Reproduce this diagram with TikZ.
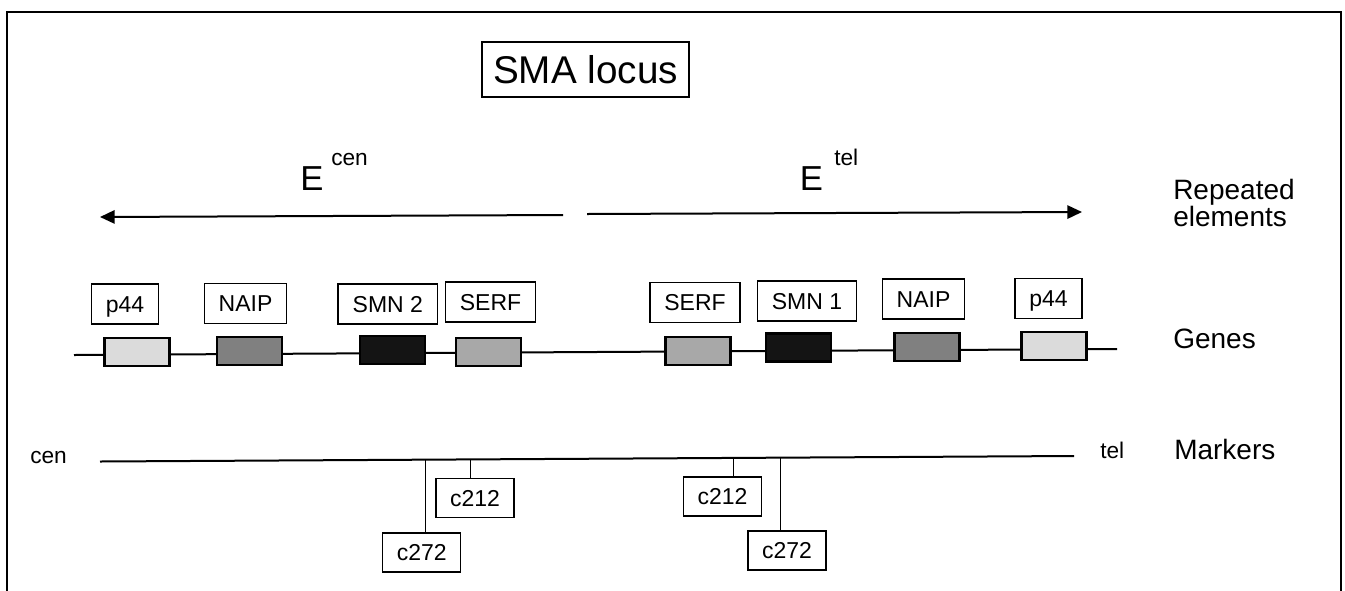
\documentclass[tikz,border=0pt]{standalone}
\usepackage{fontspec}
\setmainfont{Liberation Sans}
\usetikzlibrary{arrows.meta}

\definecolor{lightgene}{gray}{0.86}
\definecolor{naipgene}{gray}{0.50}
\definecolor{smngene}{gray}{0.08}
\definecolor{serfgene}{gray}{0.66}

\tikzset{
  lblbox/.style={draw, line width=1.1pt, inner sep=0pt, minimum height=30pt,
    text height=12.4pt, text depth=0pt, font=\fontsize{17.25}{20}\selectfont},
  genebox/.style={draw, line width=1.9pt, inner sep=0pt, minimum width=48.75pt, minimum height=21pt},
  sidelbl/.style={inner sep=0pt, anchor=west, font=\fontsize{21}{20.25}\selectfont},
  endlbl/.style={inner sep=0pt, anchor=west, font=\fontsize{17}{20}\selectfont},
  ebig/.style={inner sep=0pt, anchor=base, font=\fontsize{26}{28}\selectfont},
  esup/.style={inner sep=0pt, anchor=base west, font=\fontsize{17}{20}\selectfont},
  mline/.style={line width=1.5pt},
  tick/.style={line width=0.9pt}
}

\begin{document}
\begin{tikzpicture}[x=0.75pt,y=0.75pt,yscale=-1,xscale=1]
\useasboundingbox (0,0) rectangle (1345,590);

%Frame
\draw [line width=1.5pt] (7,600) -- (7,12) -- (1341,12) -- (1341,600);

%Title
\node [draw, line width=1.1pt, inner sep=0pt, minimum width=155pt, minimum height=41pt,
  text height=20.8pt, text depth=0pt, font=\fontsize{29}{32}\selectfont] (sma) at (585.5,69.5) {SMA locus};

%Repeated elements
\node [ebig] (ecen) at (312,190.5) {E};
\node [esup] (ecensup) at (331,165) {cen};
\node [ebig] (etel) at (811.5,190.5) {E};
\node [esup] (etelsup) at (834,165) {tel};
\coordinate (cenfrom) at (563,215);
\coordinate (cento) at (100,217);
\coordinate (telfrom) at (587,214);
\coordinate (telto) at (1082,212);
\draw [mline, -{Triangle[length=11pt,width=10pt]}] (cenfrom) -- (cento);
\draw [mline, -{Triangle[length=11pt,width=10pt]}] (telfrom) -- (telto);
\node [sidelbl, anchor=north west, align=left] (repeated) at (1173,179) {Repeated\\elements};

%Genes
\coordinate (gleft) at (74,355);
\coordinate (gright) at (1117,349);
\draw [mline] (gleft) -- (gright);

\node [genebox, fill=lightgene] (gp44a) at (137,352) {};
\node [genebox, fill=naipgene] (gnaipa) at (249.5,351) {};
\node [genebox, fill=smngene] (gsmn2) at (392.5,350) {};
\node [genebox, fill=serfgene] (gserfa) at (488.5,352) {};
\node [genebox, fill=serfgene] (gserfb) at (698,351) {};
\node [genebox, fill=smngene] (gsmn1) at (798.5,347.5) {};
\node [genebox, fill=naipgene] (gnaipb) at (927,347) {};
\node [genebox, fill=lightgene] (gp44b) at (1054,346) {};

\node [lblbox, minimum width=50.25pt] (lp44a) at (125,304) {p44};
\node [lblbox, minimum width=61.5pt] (lnaipa) at (245.5,303.5) {NAIP};
\node [lblbox, minimum width=74.5pt] (lsmn2) at (387.8,304) {SMN 2};
\node [lblbox, minimum width=67.5pt] (lserfa) at (490.5,302) {SERF};
\node [lblbox, minimum width=67.5pt] (lserfb) at (695,302.5) {SERF};
\node [lblbox, minimum width=74.5pt] (lsmn1) at (807,301) {SMN 1};
\node [lblbox, minimum width=61.5pt] (lnaipb) at (923.5,299) {NAIP};
\node [lblbox, minimum width=50.25pt] (lp44b) at (1048.5,298.5) {p44};

\node [sidelbl] (genes) at (1173,339) {Genes};

%Markers
\coordinate (mleft) at (100,461.5);
\coordinate (mright) at (1074,456);
\draw [mline] (mleft) -- (mright);
\path (mleft) -- (mright)
  coordinate [pos=0.334] (ta)
  coordinate [pos=0.380] (tb)
  coordinate [pos=0.650] (tc)
  coordinate [pos=0.699] (td);

\node [lblbox, minimum width=58.5pt, minimum height=29.25pt] (c272a) at (421.7,552.5) {c272};
\node [lblbox, minimum width=58.5pt, minimum height=29.25pt] (c212a) at (475,498) {c212};
\node [lblbox, minimum width=58.5pt, minimum height=29.25pt] (c212b) at (722.5,496.5) {c212};
\node [lblbox, minimum width=58.5pt, minimum height=29.25pt] (c272b) at (787,550.5) {c272};

\draw [tick] (ta) -- (ta |- c272a.north);
\draw [tick] (tb) -- (tb |- c212a.north);
\draw [tick] (tc) -- (tc |- c212b.north);
\draw [tick] (td) -- (td |- c272b.north);

\node [endlbl] (cen) at (30,458) {cen};
\node [endlbl] (tel) at (1100,450) {tel};
\node [sidelbl] (markers) at (1174,449) {Markers};

\end{tikzpicture}
\end{document}
